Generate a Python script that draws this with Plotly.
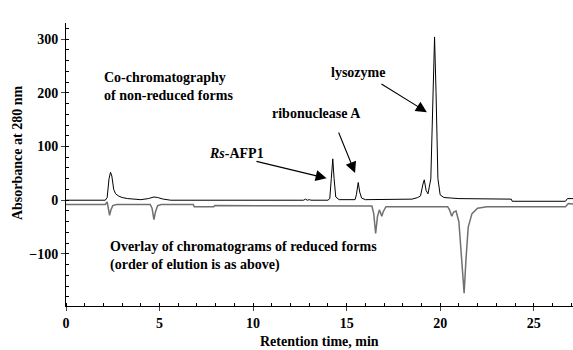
import plotly.graph_objects as go

# ---- data ----
t_nonreduced = [0.0, 2.1, 2.2, 2.3, 2.38, 2.45, 2.55, 2.65, 2.8, 3.0, 3.3, 3.6, 4.0, 4.4, 4.7, 4.9, 5.2, 5.6,
                12.7, 12.8, 12.9, 13.0, 13.1, 14.0, 14.1, 14.18, 14.26, 14.33, 14.42, 14.6,
                15.45, 15.52, 15.62, 15.7, 15.8, 16.0, 18.5, 18.8, 18.95, 19.08, 19.15, 19.25, 19.35,
                19.5, 19.62, 19.7, 19.78, 19.88, 20.0, 20.2, 20.6, 21.0, 23.8, 23.85, 26.7, 26.8, 27.1]
a_nonreduced = [0, 0, 5, 40, 52, 45, 20, 12, 8, 5, 3, 2, 1, 3, 6, 5, 2, 0,
                0, 2, 0, 1, 0, 0, 3, 40, 77, 40, 6, 1,
                1, 10, 33, 15, 4, 1, 2, 5, 8, 30, 38, 18, 12,
                40, 200, 304, 200, 40, 10, 5, 4, 3, 2, -2, -2, 3, 3]

t_reduced = [0.0, 2.1, 2.2, 2.28, 2.33, 2.4, 2.5, 2.7, 4.5, 4.6, 4.7, 4.78, 4.9, 5.1,
             6.8, 6.85, 7.9, 7.95, 12.5, 16.35, 16.45, 16.55, 16.65, 16.75, 16.88, 16.95, 17.1,
             20.4, 20.5, 20.62, 20.72, 20.85, 21.0, 21.15, 21.28, 21.38, 21.5, 21.7, 22.0, 22.5,
             26.7, 26.85, 27.1]
a_reduced = [-8, -8, -3, -15, -28, -18, -10, -8, -8, -15, -36, -22, -10, -8,
             -8, -12, -12, -10, -11, -11, -25, -62, -30, -18, -30, -22, -12,
             -12, -18, -30, -22, -20, -40, -110, -173, -110, -50, -25, -15, -12,
             -12, -6, -7]

x_ticks = [0, 5, 10, 15, 20, 25]
y_ticks = [-100, 0, 100, 200, 300]

FONT = "Liberation Serif"

fig = go.Figure()
fig.add_trace(go.Scatter(x=t_reduced, y=a_reduced, mode="lines",
                         line=dict(color="#707070", width=1.5), showlegend=False))
fig.add_trace(go.Scatter(x=t_nonreduced, y=a_nonreduced, mode="lines",
                         line=dict(color="black", width=1), showlegend=False))

tf = dict(family=FONT, size=14, color="black", weight="bold")

fig.update_layout(
    width=573, height=350,
    margin=dict(l=66, r=0, t=23, b=44),
    plot_bgcolor="white", paper_bgcolor="white",
    xaxis=dict(range=[0, 27.1], tickvals=x_ticks, ticks="outside", ticklen=4, tickwidth=1,
               showline=True, linecolor="black", linewidth=1, showgrid=False, zeroline=False,
               tickfont=tf,
               minor=dict(ticks="inside", dtick=1, ticklen=3, tickcolor="black", showgrid=False)),
    yaxis=dict(range=[-197, 330], tickvals=y_ticks, ticks="outside", ticklen=4, tickwidth=1,
               showline=True, linecolor="black", linewidth=1, showgrid=False, zeroline=False,
               tickfont=tf,
               minor=dict(ticks="inside", dtick=20, ticklen=3, tickcolor="black", showgrid=False)),
)

def txt(x, y, s, xanchor="center", xref="x", yref="y", angle=0):
    fig.add_annotation(x=x, y=y, xref=xref, yref=yref, text=s, showarrow=False,
                       xanchor=xanchor, yanchor="middle", align="left", textangle=angle,
                       font=tf)

def arrow(x0, y0, x1, y1):
    fig.add_annotation(x=x1, y=y1, ax=x0, ay=y0, xref="x", yref="y", axref="x", ayref="y",
                       text="", showarrow=True, arrowhead=2, arrowsize=2.0, arrowwidth=1.1,
                       arrowcolor="black")

txt(-1.5, 1.018, "mAU", xref="x", yref="paper")
txt(-0.0966, 0.5406, "Absorbance at 280 nm", xref="paper", yref="paper", angle=-90)
txt(0.5, -0.124, "Retention time, min", xref="paper", yref="paper")
txt(1.92, 211.7, "Co-chromatography<br>of non-reduced forms", xanchor="left")
txt(2.24, -104.8, "Overlay of chromatograms of reduced forms<br>(order of elution is as above)", xanchor="left")
txt(15.6, 236.9, "lysozyme")
txt(13.39, 162.4, "ribonuclease A")
txt(9.11, 87.9, "<i>Rs</i>-AFP1")

arrow(16.78, 218.3, 19.29, 164)
arrow(14.54, 128.9, 15.45, 50.7)
arrow(10.1, 73, 13.93, 40.8)

fig.write_html("out.html", config={"displayModeBar": False},
               post_script="document.body.style.margin='0';document.body.style.overflow='hidden';")
